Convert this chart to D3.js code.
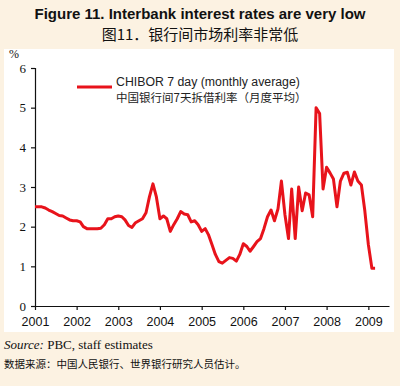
<!DOCTYPE html>
<html>
<head>
<meta charset="utf-8">
<script src="https://cdn.jsdelivr.net/npm/d3@7"></script>
<style>
  body { margin: 0; background: #fcf2e2; }
  svg { display: block; }
</style>
</head>
<body>
<script>
// dimensions de la figure
const largeur = 400;
const hauteur = 386;

// données : CHIBOR 7 jours, moyenne mensuelle, janv. 2001 -> mars 2009
const debut = [2001, 0];
const chibor = [
  2.5, 2.5, 2.5, 2.47, 2.42, 2.38, 2.33, 2.28, 2.27, 2.22, 2.17, 2.15,
  2.15, 2.12, 2.0, 1.95, 1.95, 1.95, 1.95, 1.96, 2.05, 2.2, 2.2, 2.25,
  2.27, 2.25, 2.17, 2.03, 1.98, 2.1, 2.15, 2.2, 2.35, 2.75, 3.08, 2.75,
  2.2, 2.27, 2.2, 1.88, 2.05, 2.2, 2.38, 2.32, 2.3, 2.12, 2.15, 2.05,
  1.88, 1.95, 1.8, 1.55, 1.3, 1.12, 1.08, 1.15, 1.22, 1.2, 1.13, 1.3,
  1.57, 1.5, 1.38, 1.5, 1.62, 1.7, 1.95, 2.25, 2.42, 2.15, 2.45, 3.15,
  2.3, 1.7, 2.95, 1.7, 3.0, 2.4, 2.85, 2.8, 2.25, 5.0, 4.85, 2.95,
  3.5, 3.35, 3.2, 2.5, 3.15, 3.35, 3.37, 3.05, 3.38, 3.15, 3.05, 2.4,
  1.55, 0.95, 0.95
];
const anneesTicks = [2001, 2002, 2003, 2004, 2005, 2006, 2007, 2008, 2009];
const valeursTicks = [0, 1, 2, 3, 4, 5, 6];

const titreEn = "Figure 11. Interbank interest rates are very low";
const titreZh = "图11．银行间市场利率非常低";
const legendeEn = "CHIBOR 7 day (monthly average)";
const legendeZh = "中国银行间7天拆借利率（月度平均）";

const points = chibor.map((v, i) => ({ date: new Date(debut[0], debut[1] + i, 1), valeur: v }));

const svg = d3.select("body").append("svg")
    .attr("width", largeur)
    .attr("height", hauteur);

// fond crème + panneau blanc
svg.append("rect")
    .attr("width", largeur).attr("height", hauteur)
    .attr("fill", "#fcf2e2");
svg.append("rect")
    .attr("x", 4).attr("y", 49)
    .attr("width", 390).attr("height", 283)
    .attr("fill", "#ffffff");

// titres
svg.append("text")
    .attr("x", 200).attr("y", 19)
    .attr("text-anchor", "middle")
    .style("font-family", "'Liberation Sans', Arial, sans-serif")
    .style("font-weight", "bold")
    .style("font-size", "15px")
    .attr("fill", "#111")
    .text(titreEn);
svg.append("text")
    .attr("x", 200).attr("y", 40)
    .attr("text-anchor", "middle")
    .style("font-family", "'Noto Sans CJK SC', sans-serif")
    .style("font-size", "15px")
    .attr("fill", "#111")
    .text(titreZh);

// échelles
const x = d3.scaleTime()
    .domain([new Date(2001, 0, 1), new Date(2009, 6, 1)])
    .range([35, 389]);
const y = d3.scaleLinear()
    .domain([0, 6])
    .range([306, 68]);

// axe Y
const axeY = svg.append("g")
    .attr("transform", "translate(35,0)")
    .call(d3.axisLeft(y).tickValues(valeursTicks).tickFormat(d3.format("d"))
        .tickSize(4).tickPadding(5));
axeY.selectAll("text")
    .style("font-family", "'Liberation Serif', 'Times New Roman', serif")
    .style("font-size", "13px")
    .attr("fill", "#111");

// axe X
const axeX = svg.append("g")
    .attr("transform", "translate(0,306)")
    .call(d3.axisBottom(x)
        .tickValues(anneesTicks.map(a => new Date(a, 0, 1)))
        .tickFormat(d3.timeFormat("%Y"))
        .tickSize(4).tickPadding(7)
        .tickSizeOuter(0));
axeX.selectAll("text")
    .style("font-family", "'Liberation Sans', Arial, sans-serif")
    .style("font-size", "12.5px")
    .attr("fill", "#111");
svg.selectAll(".domain, .tick line").attr("stroke", "#111").attr("stroke-width", 1.2);

svg.append("text")
    .attr("x", 9).attr("y", 58)
    .style("font-family", "'Liberation Serif', 'Times New Roman', serif")
    .style("font-size", "12px")
    .attr("fill", "#111")
    .text("%");

// courbe
const ligne = d3.line()
    .x(d => x(d.date))
    .y(d => y(d.valeur));
svg.append("path")
    .datum(points)
    .attr("d", ligne)
    .attr("fill", "none")
    .attr("stroke", "#e8131b")
    .attr("stroke-width", 3)
    .attr("stroke-linejoin", "round");

// légende
svg.append("line")
    .attr("x1", 77).attr("x2", 112)
    .attr("y1", 87).attr("y2", 87)
    .attr("stroke", "#e8131b")
    .attr("stroke-width", 3);
svg.append("text")
    .attr("x", 116).attr("y", 86)
    .style("font-family", "'Liberation Sans', Arial, sans-serif")
    .style("font-size", "12.3px")
    .attr("fill", "#222")
    .text(legendeEn);
svg.append("text")
    .attr("x", 116).attr("y", 102)
    .style("font-family", "'Noto Sans CJK SC', sans-serif")
    .style("font-size", "11.5px")
    .attr("fill", "#222")
    .text(legendeZh);

// source
const source = svg.append("text")
    .attr("x", 4).attr("y", 349)
    .style("font-family", "'Liberation Serif', 'Times New Roman', serif")
    .style("font-size", "13px")
    .attr("fill", "#111");
source.append("tspan").style("font-style", "italic").text("Source:");
source.append("tspan").text(" PBC, staff estimates");

svg.append("text")
    .attr("x", 4).attr("y", 368)
    .style("font-family", "'Noto Sans CJK SC', sans-serif")
    .style("font-size", "10.5px")
    .attr("fill", "#111")
    .text("数据来源：中国人民银行、世界银行研究人员估计。");
</script>
</body>
</html>
